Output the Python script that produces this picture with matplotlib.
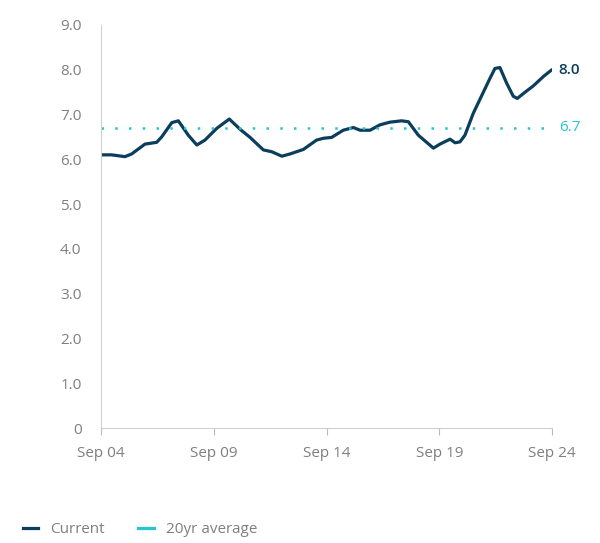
import matplotlib
matplotlib.use("Agg")
import matplotlib.pyplot as plt
from matplotlib.lines import Line2D

plt.rcParams["font.family"] = "Open Sans"

DARK = "#0b3d5c"
CYAN = "#27c4d2"
GREY = "#7f7f7f"

# x position in years since Sep 04, current value
years = [0.0, 0.47, 1.06, 1.36, 1.95, 2.47, 2.69, 3.14, 3.43, 3.87, 4.25, 4.61,
         5.13, 5.69, 6.17, 6.61, 7.20, 7.57, 8.02, 8.38, 8.97, 9.56, 9.86, 10.23,
         10.74, 11.19, 11.49, 11.93, 12.37, 12.81, 13.33, 13.63, 14.07, 14.74,
         15.03, 15.48, 15.70, 15.92, 16.14, 16.51, 17.25, 17.47, 17.69, 17.99,
         18.28, 18.46, 18.73, 19.17, 19.62, 19.99]
current = [6.10, 6.10, 6.06, 6.12, 6.34, 6.38, 6.50, 6.82, 6.86, 6.54, 6.32, 6.43,
           6.69, 6.90, 6.67, 6.49, 6.21, 6.17, 6.07, 6.12, 6.22, 6.43, 6.47, 6.49,
           6.65, 6.71, 6.65, 6.65, 6.77, 6.83, 6.86, 6.84, 6.54, 6.25,
           6.34, 6.45, 6.37, 6.39, 6.54, 7.03, 7.81, 8.03, 8.05, 7.70,
           7.41, 7.36, 7.47, 7.64, 7.85, 8.00]
avg_20yr = 6.7
x_ticks = [0, 5, 10, 15, 20]
x_labels = ["Sep 04", "Sep 09", "Sep 14", "Sep 19", "Sep 24"]
y_ticks = [0, 1, 2, 3, 4, 5, 6, 7, 8, 9]
y_labels = ["0", "1.0", "2.0", "3.0", "4.0", "5.0", "6.0", "7.0", "8.0", "9.0"]

fig = plt.figure(figsize=(6.0, 5.43), dpi=100)
ax = fig.add_axes([101 / 600, 1 - 428 / 543, 451 / 600, 403 / 543])

ax.plot(years, current, color=DARK, lw=2.3, solid_capstyle="round",
        solid_joinstyle="round")
ax.axhline(avg_20yr, color=CYAN, lw=1.8, ls=(0, (1, 4.5)))

ax.text(20.3, current[-1], f"{current[-1]:.1f}", color=DARK, fontsize=11,
        va="center", ha="left", fontweight="medium")
ax.text(20.3, avg_20yr, f"{avg_20yr:.1f}", color=CYAN, fontsize=11,
        va="center", ha="left")

ax.set_xlim(0, 20)
ax.set_ylim(0, 9)
ax.set_xticks(x_ticks)
ax.set_xticklabels(x_labels)
ax.set_yticks(y_ticks)
ax.set_yticklabels(y_labels)
ax.tick_params(axis="x", colors="#bbbbbb", labelcolor=GREY, labelsize=11,
               length=5, pad=8)
ax.tick_params(axis="y", length=0, labelcolor=GREY, labelsize=11, pad=14)
for side in ("top", "right"):
    ax.spines[side].set_visible(False)
for side in ("left", "bottom"):
    ax.spines[side].set_color("#d0d0d0")

handles = [Line2D([], [], color=DARK, lw=2.3),
           Line2D([], [], color=CYAN, lw=2.3)]
fig.legend(handles, ["Current", "20yr average"], loc="lower left",
           bbox_to_anchor=(0.015, -0.015), ncol=2, frameon=False, fontsize=11,
           handlelength=1.0, columnspacing=2.2, labelcolor=GREY)

fig.savefig("out.png", dpi=100, facecolor="white")
